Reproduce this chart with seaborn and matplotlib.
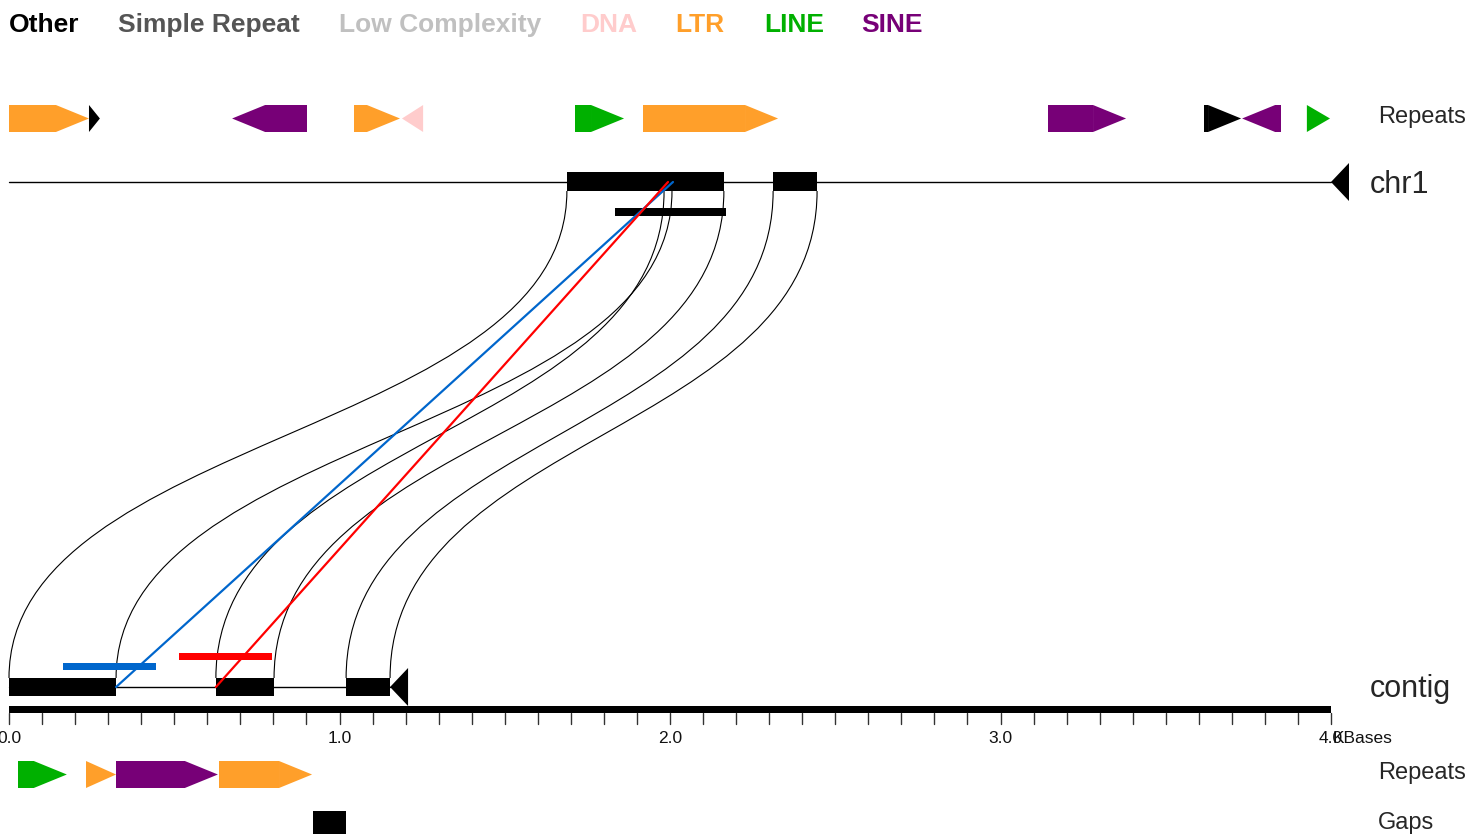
"""
Alignment view of a contig against chr1 with repeat tracks.
Drawn on one full-figure axes: x in kilobases, y in pixel rows.
"""
import matplotlib
matplotlib.use("Agg")
import matplotlib.pyplot as plt
import numpy as np
import pandas as pd
import seaborn as sns
from matplotlib.patches import Polygon, Rectangle, PathPatch
from matplotlib.path import Path

# ---------------------------------------------------------------------------
# Data (kilobases)
# ---------------------------------------------------------------------------
CLASS_NAMES = ["Other", "Simple Repeat", "Low Complexity", "DNA", "LTR", "LINE", "SINE"]
CLASS_COLORS = ["#000000", "#555555", "#c0c0c0", "#ffcccc", "#ff9f2a", "#00b000", "#770077"]

# chr1 repeats: start, end, strand, class
CHR1_REP_START = [0.000, 0.242, 0.675, 1.044, 1.189, 1.713, 1.918, 3.144, 3.616, 3.731, 3.927]
CHR1_REP_END = [0.242, 0.275, 0.902, 1.183, 1.253, 1.861, 2.327, 3.380, 3.728, 3.849, 3.997]
CHR1_REP_STRAND = ["+", "+", "-", "+", "-", "+", "+", "+", "+", "-", "+"]
CHR1_REP_CLASS = ["LTR", "Other", "SINE", "LTR", "DNA", "LINE", "LTR", "SINE", "Other", "SINE", "LINE"]

# contig repeats
CTG_REP_START = [0.027, 0.233, 0.324, 0.635]
CTG_REP_END = [0.175, 0.324, 0.632, 0.917]
CTG_REP_STRAND = ["+", "+", "+", "+"]
CTG_REP_CLASS = ["LINE", "LTR", "SINE", "LTR"]

# contig gaps
GAP_START = [0.920]
GAP_END = [1.020]

CHR1_LEN = 4.000
CONTIG_LEN = 1.153

# aligned blocks: contig start/end <-> chr1 start/end
CTG_BLOCK_START = [0.000, 0.626, 1.020]
CTG_BLOCK_END = [0.324, 0.802, 1.153]
CHR1_BLOCK_START = [1.688, 1.982, 2.312]
CHR1_BLOCK_END = [2.006, 2.163, 2.445]

# second chr1 hit bar (under the chr1 line)
CHR1_HIT_START = [1.834]
CHR1_HIT_END = [2.169]

# coloured hits on contig and their link to chr1
HIT_NAMES = ["blue", "red"]
HIT_COLORS = ["#0066cc", "#ff0000"]
HIT_BAR_START = [0.163, 0.514]
HIT_BAR_END = [0.445, 0.796]
HIT_CTG_POS = [0.324, 0.626]
HIT_CHR1_POS = [2.009, 1.994]

AXIS_MAJOR = [0.0, 1.0, 2.0, 3.0, 4.0]
AXIS_MINOR_STEP = 0.1

# ---------------------------------------------------------------------------
# Layout (pixels)
# ---------------------------------------------------------------------------
W_PX, H_PX = 1470, 834
X0_PX = 9
PX_PER_KB = 330.5
HEAD_KB = 0.1
LABEL_X = 1378

Y_TOP_REP = (105, 132)
Y_CHR1 = 182
Y_CHR1_BLOCK = (172, 191)
Y_CHR1_HIT = (208, 216)
Y_CTG = 687
Y_CTG_BLOCK = (678, 696)
Y_AXIS = (706, 713)
Y_BOT_REP = (761, 788)
Y_GAPS = (811, 838)


def kb(px):
    return (px - X0_PX) / PX_PER_KB


sns.set_style("white")
plt.rcParams["font.family"] = ["Liberation Sans", "DejaVu Sans"]

fig = plt.figure(figsize=(W_PX / 100, H_PX / 100), dpi=100)
ax = fig.add_axes([0, 0, 1, 1])
ax.set_xlim(kb(0), kb(W_PX))
ax.set_ylim(H_PX, 0)
ax.axis("off")

color_of = dict(zip(CLASS_NAMES, CLASS_COLORS))


def draw_feature(s, e, strand, color, y0, y1):
    h = min(HEAD_KB, e - s)
    ym = (y0 + y1) / 2
    if strand == "+":
        if e - h > s:
            ax.add_patch(Rectangle((s, y0), e - h - s, y1 - y0, color=color, lw=0))
        ax.add_patch(Polygon([(e - h, y0), (e, ym), (e - h, y1)], color=color, lw=0))
    else:
        if s + h < e:
            ax.add_patch(Rectangle((s + h, y0), e - s - h, y1 - y0, color=color, lw=0))
        ax.add_patch(Polygon([(s + h, y0), (s, ym), (s + h, y1)], color=color, lw=0))


# legend row
legend_x_px = [9, 118, 339, 580, 675, 764, 861]
for name, col, xp in zip(CLASS_NAMES, CLASS_COLORS, legend_x_px):
    ax.text(kb(xp), 32, name, color=col, fontsize=19, fontweight="bold",
            ha="left", va="baseline")

# repeat tracks
for s, e, st, c in zip(CHR1_REP_START, CHR1_REP_END, CHR1_REP_STRAND, CHR1_REP_CLASS):
    draw_feature(s, e, st, color_of[c], *Y_TOP_REP)
for s, e, st, c in zip(CTG_REP_START, CTG_REP_END, CTG_REP_STRAND, CTG_REP_CLASS):
    draw_feature(s, e, st, color_of[c], *Y_BOT_REP)
for s, e in zip(GAP_START, GAP_END):
    ax.add_patch(Rectangle((s, Y_GAPS[0]), e - s, Y_GAPS[1] - Y_GAPS[0], color="black", lw=0))

# alignment ribbons (S-shaped bezier edges)
ym = (Y_CHR1_BLOCK[1] + Y_CTG_BLOCK[0]) / 2
for cs, ce, hs, he in zip(CTG_BLOCK_START, CTG_BLOCK_END, CHR1_BLOCK_START, CHR1_BLOCK_END):
    for xt, xb in [(hs, cs), (he, ce)]:
        verts = [(xt, Y_CHR1_BLOCK[1]), (xt, ym), (xb, ym), (xb, Y_CTG_BLOCK[0])]
        path = Path(verts, [Path.MOVETO, Path.CURVE4, Path.CURVE4, Path.CURVE4])
        ax.add_patch(PathPatch(path, fill=False, ec="black", lw=0.8))

# chr1 line, blocks, strand arrow
ax.plot([0, CHR1_LEN], [Y_CHR1, Y_CHR1], color="black", lw=1)
for s, e in zip(CHR1_BLOCK_START, CHR1_BLOCK_END):
    ax.add_patch(Rectangle((s, Y_CHR1_BLOCK[0]), e - s, Y_CHR1_BLOCK[1] - Y_CHR1_BLOCK[0],
                           color="black", lw=0))
for s, e in zip(CHR1_HIT_START, CHR1_HIT_END):
    ax.add_patch(Rectangle((s, Y_CHR1_HIT[0]), e - s, Y_CHR1_HIT[1] - Y_CHR1_HIT[0],
                           color="black", lw=0))
tri_w = 18 / PX_PER_KB
ax.add_patch(Polygon([(CHR1_LEN, Y_CHR1), (CHR1_LEN + tri_w, Y_CHR1 - 19),
                      (CHR1_LEN + tri_w, Y_CHR1 + 19)], color="black", lw=0))

# contig line, blocks, strand arrow
ax.plot([0, CONTIG_LEN], [Y_CTG, Y_CTG], color="black", lw=1)
for s, e in zip(CTG_BLOCK_START, CTG_BLOCK_END):
    ax.add_patch(Rectangle((s, Y_CTG_BLOCK[0]), e - s, Y_CTG_BLOCK[1] - Y_CTG_BLOCK[0],
                           color="black", lw=0))
ax.add_patch(Polygon([(CONTIG_LEN, Y_CTG), (CONTIG_LEN + tri_w, Y_CTG - 19),
                      (CONTIG_LEN + tri_w, Y_CTG + 19)], color="black", lw=0))

# coloured hits and their links
links = pd.DataFrame({
    "x": [v for pair in zip(HIT_CTG_POS, HIT_CHR1_POS) for v in pair],
    "y": [Y_CTG, Y_CHR1] * len(HIT_NAMES),
    "hit": [n for n in HIT_NAMES for _ in range(2)],
})
sns.lineplot(data=links, x="x", y="y", hue="hit", palette=dict(zip(HIT_NAMES, HIT_COLORS)),
             units="hit", estimator=None, sort=False, lw=1.6, legend=False, ax=ax)
hit_y = [666, 656]
for s, e, c, y in zip(HIT_BAR_START, HIT_BAR_END, HIT_COLORS, hit_y):
    ax.add_patch(Rectangle((s, y - 3.5), e - s, 7, color=c, lw=0))

# scale axis
ax.add_patch(Rectangle((0, Y_AXIS[0]), CHR1_LEN, Y_AXIS[1] - Y_AXIS[0], color="black", lw=0))
n_ticks = int(round(CHR1_LEN / AXIS_MINOR_STEP)) + 1
for i in range(n_ticks):
    xt = i * AXIS_MINOR_STEP
    ax.plot([xt, xt], [Y_AXIS[1], 724], color="#333333", lw=1)
for v in AXIS_MAJOR:
    ax.text(v, 743, f"{v:.1f}", fontsize=12.5, ha="center", va="baseline", color="#111111")
# the reference draws "KBases" right over the last tick label
ax.text(kb(1333), 743, "KBases", fontsize=12.5, ha="left", va="baseline", color="#111111")

# track labels
ax.text(kb(LABEL_X), 123, "Repeats", fontsize=17, ha="left", va="baseline")
ax.text(kb(1370), 193, "chr1", fontsize=22, ha="left", va="baseline")
ax.text(kb(1370), 697, "contig", fontsize=22, ha="left", va="baseline")
ax.text(kb(LABEL_X), 779, "Repeats", fontsize=17, ha="left", va="baseline")
ax.text(kb(LABEL_X), 829, "Gaps", fontsize=17, ha="left", va="baseline")

fig.savefig("out.png", dpi=100)
plt.close(fig)
